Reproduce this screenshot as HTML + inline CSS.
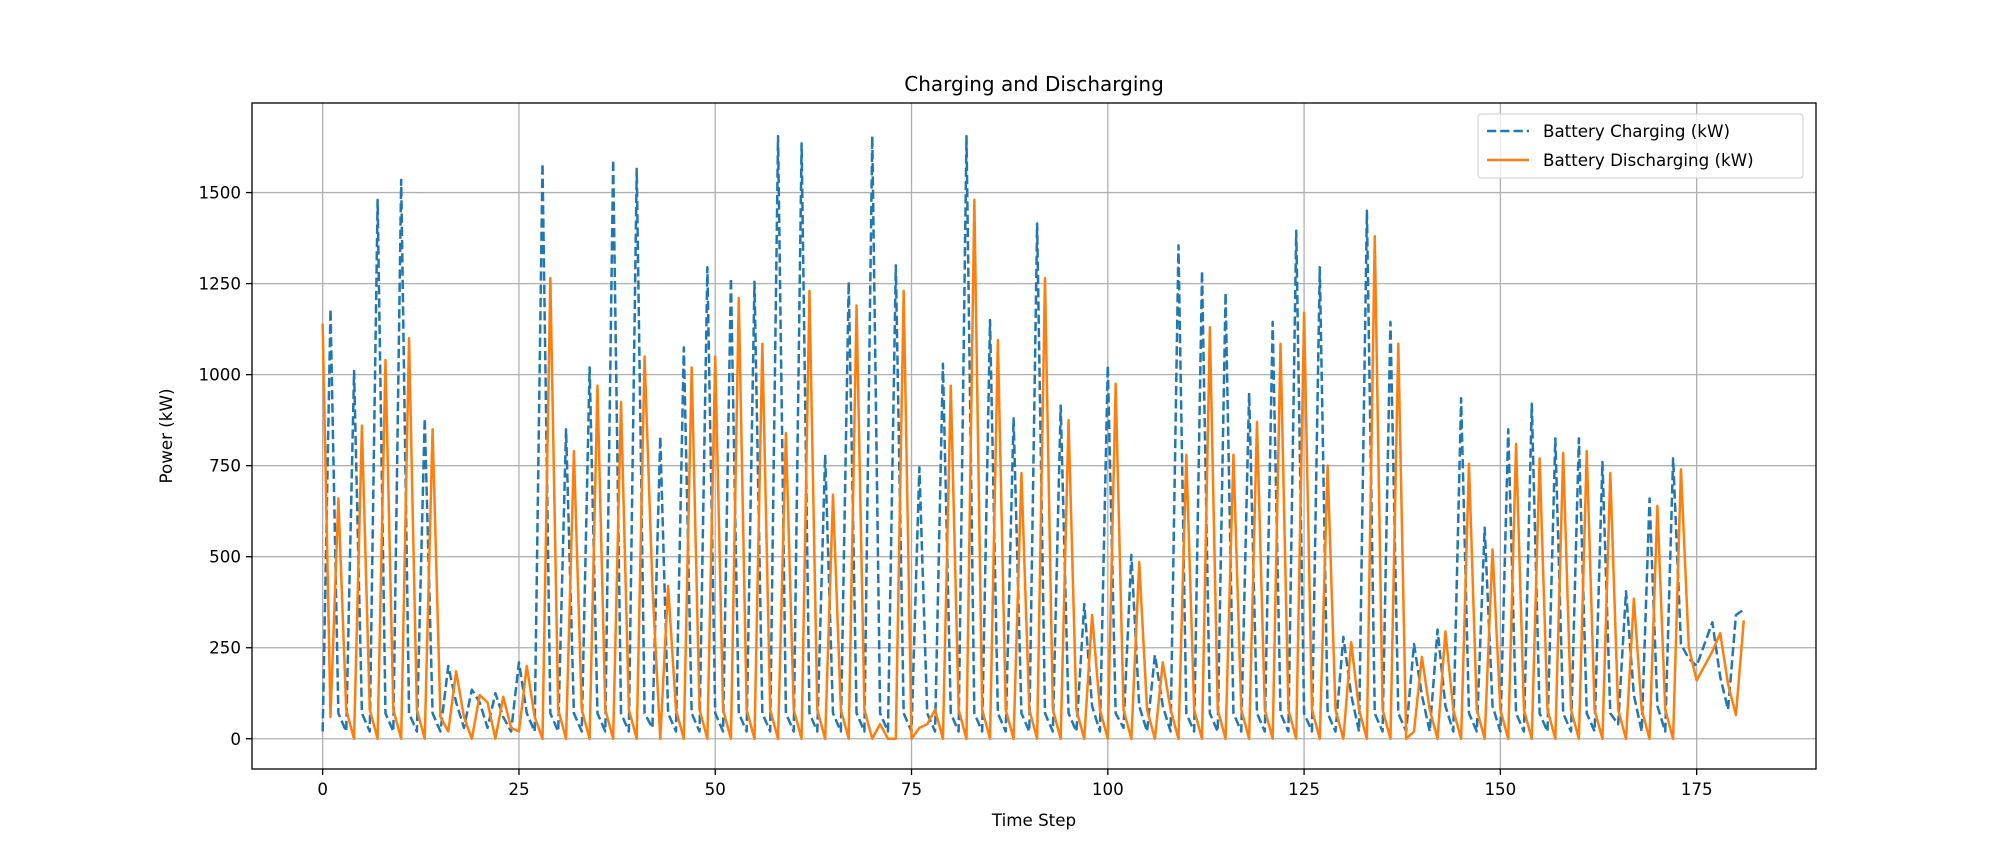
<!DOCTYPE html>
<html><head><meta charset="utf-8"><style>
html,body{margin:0;padding:0;background:#fff;}
svg{display:block;font-family:"DejaVu Sans","Liberation Sans",sans-serif;}
</style></head><body>
<svg id="chart" width="2016" height="864" viewBox="0 0 2016 864" xmlns="http://www.w3.org/2000/svg">
<rect x="0" y="0" width="2016" height="864" fill="#fff"/>
<g id="grid"></g>
<g id="series"></g>
<rect x="252" y="103" width="1564" height="666" fill="none" stroke="#000" stroke-width="1.3"/>
<g id="ticks"></g>
<text x="1034" y="91" font-size="20" text-anchor="middle">Charging and Discharging</text>
<text x="1034" y="826" font-size="16.7" text-anchor="middle">Time Step</text>
<text x="0" y="0" font-size="16.7" text-anchor="middle" transform="translate(172,436) rotate(-90)">Power (kW)</text>
<g>
<rect x="1478" y="114" width="325" height="64" rx="3" fill="#fff" fill-opacity="0.8" stroke="#ccc" stroke-width="1"/>
<line x1="1487" y1="131" x2="1529" y2="131" stroke="#1f77b4" stroke-width="2.5" stroke-dasharray="9.25,4"/>
<text x="1543" y="137" font-size="16.7">Battery Charging (kW)</text>
<line x1="1487" y1="160" x2="1529" y2="160" stroke="#ff7f0e" stroke-width="2.5"/>
<text x="1543" y="166" font-size="16.7">Battery Discharging (kW)</text>
</g>
</svg>
<script>
const xTicks = [0,25,50,75,100,125,150,175];
const yTicks = [0,250,500,750,1000,1250,1500];
const charging = [
20,1180,70, 20,1010,70, 20,1480,70, 20,1535,70, 20,880,70,
20,200,100, 30,135,100, 30,125,60, 20,210,70, 20,1580,70,
20,850,70, 20,1020,70, 20,1590,70, 20,1565,70, 30,830,70,
20,1075,70, 20,1295,70, 20,1265,70, 20,1255,70, 20,1655,70,
20,1635,70, 20,780,70, 20,1255,70, 20,1655,70, 20,1300,70,
20,745,70, 20,1030,70, 20,1655,70, 20,1150,70, 20,880,70,
20,1415,70, 20,915,70, 20,370,90, 20,1025,70, 30,505,90,
20,230,90, 20,1355,70, 20,1285,70, 20,1225,70, 20,950,70,
20,1145,70, 20,1395,70, 20,1295,70, 20,280,120, 20,1450,70,
20,1145,70, 20,260,120, 20,300,90, 20,935,70, 20,580,90,
20,850,70, 20,920,70, 20,825,70, 20,825,70, 20,760,70,
40,405,120, 20,660,90, 20,770,260,
220,200,260,320,170,80,340,355
];
const discharging = [
1140,60,660, 80,0,860, 80,0,1040, 80,0,1100, 80,0,850, 60,20,185,
60,0,120, 100,0,115, 30,20,200, 60,0,1265, 80,0,790, 80,0,970,
80,0,925, 80,0,1050, 420,0,420, 80,0,1020, 80,0,1050, 80,0,1210,
80,0,1085, 80,0,840, 80,0,1230, 80,0,670, 80,0,1190, 80,0,40,
0,0,1230, 0,30,40, 80,0,970, 80,0,1480, 80,0,1095, 80,0,730,
80,0,1265, 80,0,875, 80,0,340, 80,0,975, 80,0,485, 80,0,210,
80,0,780, 80,0,1130, 80,0,780, 80,0,870, 80,0,1085, 80,0,1170,
80,0,750, 80,0,265, 80,0,1380, 80,0,1085, 0,20,225, 80,0,295,
80,0,755, 80,0,520, 80,0,810, 80,0,770, 80,0,785, 80,0,790,
80,0,730, 80,0,385, 80,0,640, 80,0,740,
250,160,200,240,290,150,65,325
];
const NS='http://www.w3.org/2000/svg';
const L=252,R=1816,T=103,B=769;
const xMin=-9.0,xMax=190.2,yMin=-83,yMax=1746;
function xs(v){return L+(v-xMin)/(xMax-xMin)*(R-L);}
function ys(v){return B-(v-yMin)/(yMax-yMin)*(B-T);}
const grid=document.getElementById('grid'),ticks=document.getElementById('ticks'),series=document.getElementById('series');
xTicks.forEach(t=>{
  const g=document.createElementNS(NS,'line');
  
  
  g.setAttribute('x1',xs(t));g.setAttribute('x2',xs(t));g.setAttribute('y1',T);g.setAttribute('y2',B);
  g.setAttribute('stroke','#b0b0b0');g.setAttribute('stroke-width','1.3');grid.appendChild(g);
  const tk=document.createElementNS(NS,'line');
  
  
  tk.setAttribute('x1',xs(t));tk.setAttribute('x2',xs(t));tk.setAttribute('y1',B);tk.setAttribute('y2',B+6);
  tk.setAttribute('stroke','#000');tk.setAttribute('stroke-width','1.3');ticks.appendChild(tk);
  const tx=document.createElementNS(NS,'text');
  
  
  tx.setAttribute('x',xs(t));tx.setAttribute('y',B+26);tx.setAttribute('font-size','16.7');tx.setAttribute('text-anchor','middle');
  tx.textContent=t;ticks.appendChild(tx);
});
yTicks.forEach(t=>{
  const g=document.createElementNS(NS,'line');
  
  
  g.setAttribute('x1',L);g.setAttribute('x2',R);g.setAttribute('y1',ys(t));g.setAttribute('y2',ys(t));
  g.setAttribute('stroke','#b0b0b0');g.setAttribute('stroke-width','1.3');grid.appendChild(g);
  const tk=document.createElementNS(NS,'line');
  
  
  tk.setAttribute('x1',L-6);tk.setAttribute('x2',L);tk.setAttribute('y1',ys(t));tk.setAttribute('y2',ys(t));
  tk.setAttribute('stroke','#000');tk.setAttribute('stroke-width','1.3');ticks.appendChild(tk);
  const tx=document.createElementNS(NS,'text');
  
  
  tx.setAttribute('x',L-11);tx.setAttribute('y',ys(t)+6);tx.setAttribute('font-size','16.7');tx.setAttribute('text-anchor','end');
  tx.textContent=t;ticks.appendChild(tx);
});
function pts(arr){return arr.map((v,i)=>xs(i).toFixed(2)+','+ys(v).toFixed(2)).join(' ');}
const pc=document.createElementNS(NS,'polyline');


pc.setAttribute('points',pts(charging));pc.setAttribute('fill','none');pc.setAttribute('stroke','#1f77b4');
pc.setAttribute('stroke-width','2.5');pc.setAttribute('stroke-dasharray','9.25,4');pc.setAttribute('stroke-linejoin','round');
series.appendChild(pc);
const pd=document.createElementNS(NS,'polyline');


pd.setAttribute('points',pts(discharging));pd.setAttribute('fill','none');pd.setAttribute('stroke','#ff7f0e');
pd.setAttribute('stroke-width','2.5');pd.setAttribute('stroke-linejoin','round');
series.appendChild(pd);
</script>
</body></html>
